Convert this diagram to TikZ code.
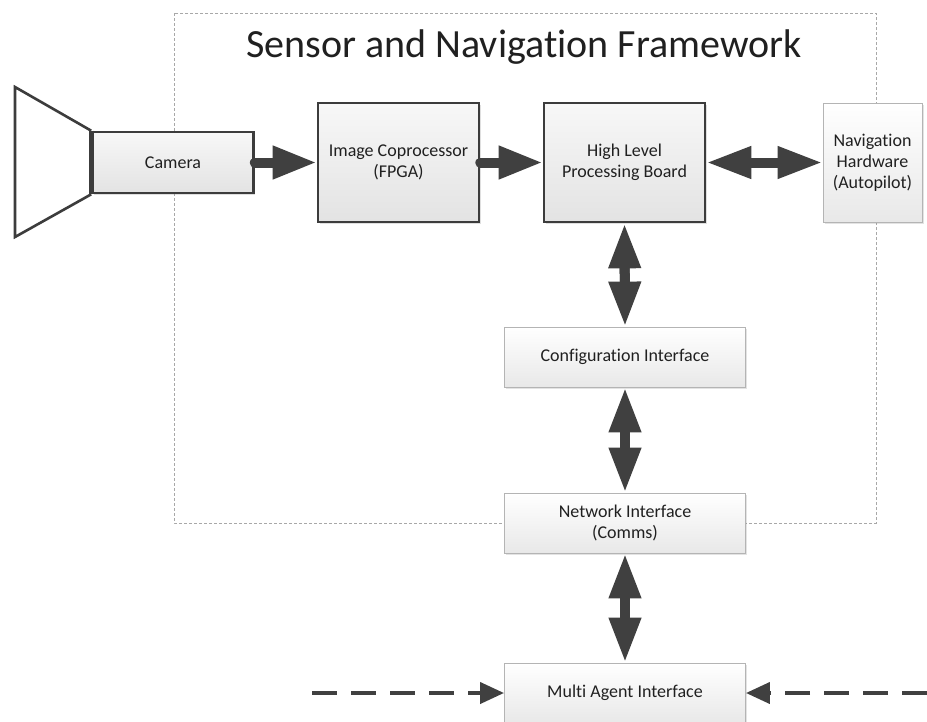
\documentclass[tikz,border=0pt]{standalone}
\usepackage{fontspec}
\setmainfont{Carlito}[Ligatures=NoCommon]
\usetikzlibrary{arrows.meta,shadows}
\definecolor{arrowc}{HTML}{404040}
\definecolor{boxdark}{HTML}{3C3C3C}
\definecolor{thinline}{HTML}{B4B4B4}
\definecolor{framec}{HTML}{A8A8A8}
\definecolor{txt}{HTML}{202020}
\begin{document}
\begin{tikzpicture}[x=1pt,y=-1pt,
  every node/.style={text=txt},
  boxtext/.style={font=\fontsize{18}{21}\selectfont, align=center, inner sep=0pt},
  thickbox/.style={boxtext, draw=boxdark, line width=2.6pt, top color=black!3, bottom color=black!11,
     drop shadow={opacity=0.25, shadow xshift=1.5pt, shadow yshift=-1.5pt}},
  thinbox/.style={boxtext, draw=thinline, line width=0.9pt, top color=white, bottom color=black!9,
     drop shadow={opacity=0.22, shadow xshift=1.5pt, shadow yshift=-1.5pt}},
  single/.style={draw=arrowc, line width=10pt, line cap=round, -{Triangle[length=44pt,width=31pt]}},
  dbl/.style={draw=arrowc, line width=10pt, {Triangle[length=45pt,width=30pt]}-{Triangle[length=45pt,width=30pt]}},
  dblcore/.style={draw=arrowc, line width=10pt, shorten <=25pt, shorten >=25pt},
  dasharrow/.style={draw=arrowc, line width=4pt, dash pattern=on 25pt off 14pt, -{Triangle[length=24pt,width=21pt]}},
  frame/.style={draw=framec, line width=0.9pt, dash pattern=on 3pt off 2pt}
]
\useasboundingbox (0,0) rectangle (927,721);
\fill[white] (0,0) rectangle (927,721);

% framework boundary
\draw[frame] (174,13) rectangle (876,523);
\node[font=\fontsize{40}{48}\selectfont, anchor=base, inner sep=0pt] (title) at (524,57) {Sensor and Navigation Framework};

% boxes
\node[thickbox, minimum width=161pt, minimum height=61pt] (camera) at (173,162.5) {Camera};
\node[thickbox, minimum width=161pt, minimum height=119pt] (coproc) at (398.5,162.5) {Image Coprocessor\\(FPGA)};
\node[thickbox, minimum width=161pt, minimum height=119pt] (hlpb) at (624.5,162.5) {High Level\\Processing Board};
\node[thinbox, minimum width=99pt, minimum height=119pt] (nav) at (872.5,162.5) {Navigation\\Hardware\\(Autopilot)};
\node[thinbox, minimum width=241pt, minimum height=60pt] (config) at (625,357) {Configuration Interface};
\node[thinbox, minimum width=241pt, minimum height=60pt] (network) at (625,523) {Network Interface\\(Comms)};
\node[thinbox, minimum width=241pt, minimum height=60pt] (multi) at (625,693) {Multi Agent Interface};

% camera lens
\coordinate (lensTop) at (15,87);
\coordinate (lensBot) at (15,237);
\draw[draw=boxdark, line width=2.6pt, line join=miter, fill=white] (camera.north west) -- (lensTop) -- (lensBot) -- (camera.south west);
\draw[draw=boxdark, line width=5pt] (camera.north west) -- (camera.south west);

% connectors
\draw[single] (camera.east) -- (coproc.west |- camera.east);
\draw[single] (coproc.east) -- (hlpb.west);
\draw[dblcore] (hlpb.east) -- (nav.west);
\draw[dbl] (hlpb.east) -- (nav.west);
\draw[dblcore] (hlpb.south) -- (config.north);
\draw[dbl] (hlpb.south) -- (config.north);
\draw[dblcore] (config.south) -- (network.north);
\draw[dbl] (config.south) -- (network.north);
\draw[dblcore] (network.south) -- (multi.north);
\draw[dbl] (network.south) -- (multi.north);

\coordinate (extL) at (312,693);
\coordinate (extR) at (927,693);
\draw[dasharrow] (extL) -- (multi.west);
\draw[dasharrow] (extR) -- (multi.east);
\end{tikzpicture}
\end{document}
